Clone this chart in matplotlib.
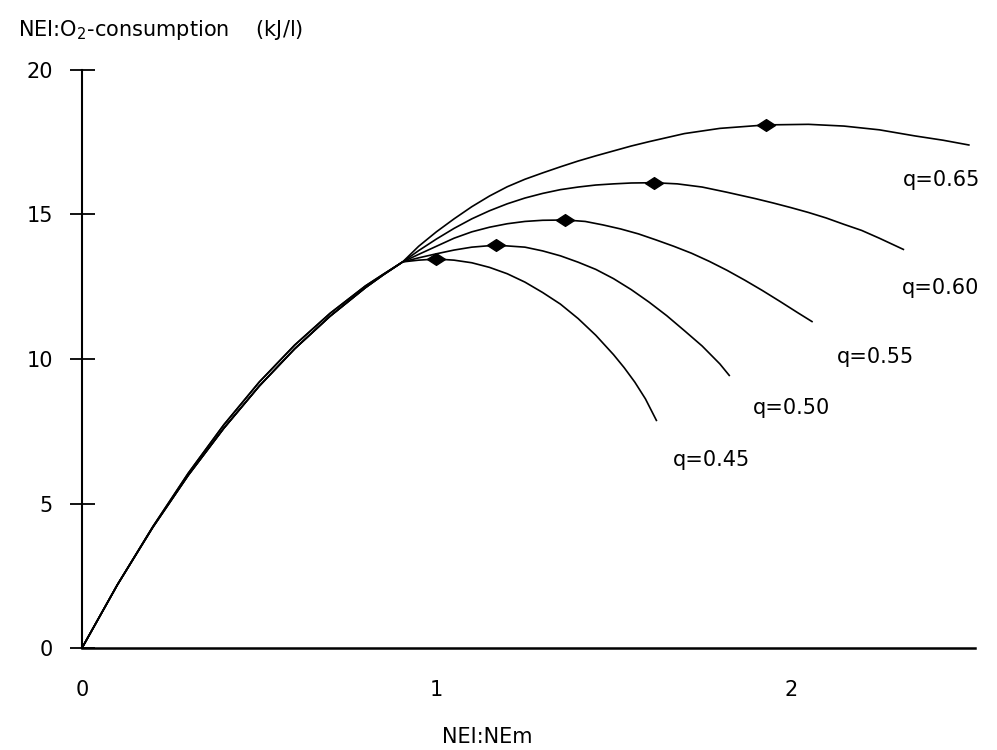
import matplotlib
matplotlib.use('Agg')
import matplotlib.pyplot as plt
from matplotlib.path import Path

plt.rcParams['font.family'] = ['DejaVu Sans']

# shared rising part
trunk_x = [0, 0.1, 0.2, 0.3, 0.4, 0.5, 0.6, 0.7, 0.8, 0.85, 0.905]
trunk_low = [0, 2.19, 4.18, 5.98, 7.60, 9.06, 10.35, 11.48, 12.47, 12.91, 13.36]
trunk_high = [0, 2.19, 4.20, 6.05, 7.72, 9.20, 10.48, 11.58, 12.53, 12.93, 13.36]

# falling branches after the common point
x_45 = [0.95, 1.0, 1.05, 1.1, 1.15, 1.2, 1.25, 1.3, 1.35, 1.4, 1.45, 1.5, 1.53, 1.56, 1.59, 1.622]
y_45 = [13.42, 13.46, 13.42, 13.33, 13.17, 12.95, 12.66, 12.30, 11.90, 11.40, 10.82, 10.15, 9.70, 9.20, 8.62, 7.85]

x_50 = [0.95, 1.0, 1.05, 1.1, 1.168, 1.25, 1.3, 1.35, 1.4, 1.45, 1.5, 1.55, 1.6, 1.65, 1.7, 1.75, 1.8, 1.828]
y_50 = [13.50, 13.64, 13.77, 13.87, 13.94, 13.87, 13.74, 13.57, 13.35, 13.10, 12.78, 12.40, 11.97, 11.50, 10.98, 10.45, 9.83, 9.41]

x_55 = [0.95, 1.0, 1.05, 1.1, 1.15, 1.2, 1.25, 1.3, 1.364, 1.42, 1.47, 1.52, 1.57, 1.62, 1.67,
        1.72, 1.77, 1.82, 1.87, 1.92, 1.97, 2.02, 2.062]
y_55 = [13.62, 13.90, 14.18, 14.40, 14.56, 14.68, 14.76, 14.80, 14.81, 14.76, 14.64, 14.50, 14.33, 14.12, 13.90,
        13.66, 13.38, 13.07, 12.73, 12.37, 11.99, 11.60, 11.28]

x_60 = [0.95, 1.0, 1.05, 1.1, 1.15, 1.2, 1.25, 1.3, 1.35, 1.4, 1.45, 1.5, 1.55, 1.614, 1.68, 1.75,
        1.82, 1.9, 1.95, 2.0, 2.05, 2.1, 2.15, 2.2, 2.25, 2.32]
y_60 = [13.75, 14.15, 14.52, 14.85, 15.13, 15.37, 15.57, 15.73, 15.86, 15.95, 16.02, 16.06, 16.09, 16.10, 16.06, 15.95,
        15.77, 15.55, 15.40, 15.24, 15.07, 14.88, 14.66, 14.45, 14.18, 13.78]

x_65 = [0.95, 1.0, 1.05, 1.1, 1.15, 1.2, 1.25, 1.3, 1.35, 1.4, 1.45, 1.5, 1.55, 1.6, 1.7, 1.8,
        1.93, 2.05, 2.15, 2.25, 2.35, 2.43, 2.505]
y_65 = [13.90, 14.40, 14.85, 15.27, 15.64, 15.96, 16.22, 16.44, 16.65, 16.85, 17.03, 17.20, 17.37, 17.52, 17.80, 17.98,
        18.10, 18.12, 18.06, 17.93, 17.72, 17.57, 17.40]

# maxima marked with diamonds
peak_x = [1.0, 1.168, 1.364, 1.614, 1.93]
peak_y = [13.46, 13.94, 14.81, 16.10, 18.10]

labels = ['q=0.45', 'q=0.50', 'q=0.55', 'q=0.60', 'q=0.65']
label_pos = [(1.667, 6.5), (1.893, 8.3), (2.13, 10.07), (2.313, 12.46), (2.316, 16.19)]

fig = plt.figure(figsize=(9.97, 7.5), dpi=100)
ax = fig.add_axes([82 / 997, 1 - 648 / 750, (975 - 82) / 997, (648 - 70) / 750])

branches = [(x_45, y_45, trunk_low), (x_50, y_50, trunk_low), (x_55, y_55, trunk_low),
            (x_60, y_60, trunk_high), (x_65, y_65, trunk_high)]
for bx, by, tr in branches:
    ax.plot(trunk_x + bx, tr + by, color='black', lw=1.2, solid_capstyle='butt')

diamond = Path([(-1, 0), (0, 0.65), (1, 0), (0, -0.65), (-1, 0)],
               [Path.MOVETO, Path.LINETO, Path.LINETO, Path.LINETO, Path.CLOSEPOLY])
ax.plot(peak_x, peak_y, linestyle='none', marker=diamond, markersize=13, color='black')

for txt, (tx, ty) in zip(labels, label_pos):
    ax.text(tx, ty, txt, fontsize=15, ha='left', va='center')

ax.set_xlim(0, 2.52)
ax.set_ylim(0, 20)
ax.spines['top'].set_visible(False)
ax.spines['right'].set_visible(False)
ax.spines['left'].set_linewidth(1.5)
ax.spines['bottom'].set_linewidth(1.8)

ax.set_yticks([0, 5, 10, 15, 20])
ax.set_xticks([0, 1, 2])
ax.tick_params(axis='y', direction='inout', length=18, width=1.3, pad=12, labelsize=15)
ax.tick_params(axis='x', length=0, pad=23, labelsize=15)

fig.text(18 / 997, 1 - 30 / 750, 'NEI:O$_2$-consumption    (kJ/l)', fontsize=15, va='center', ha='left')
fig.text(487 / 997, 1 - 737 / 750, 'NEI:NEm', fontsize=15, va='center', ha='center')

fig.savefig('out.png', dpi=100)
